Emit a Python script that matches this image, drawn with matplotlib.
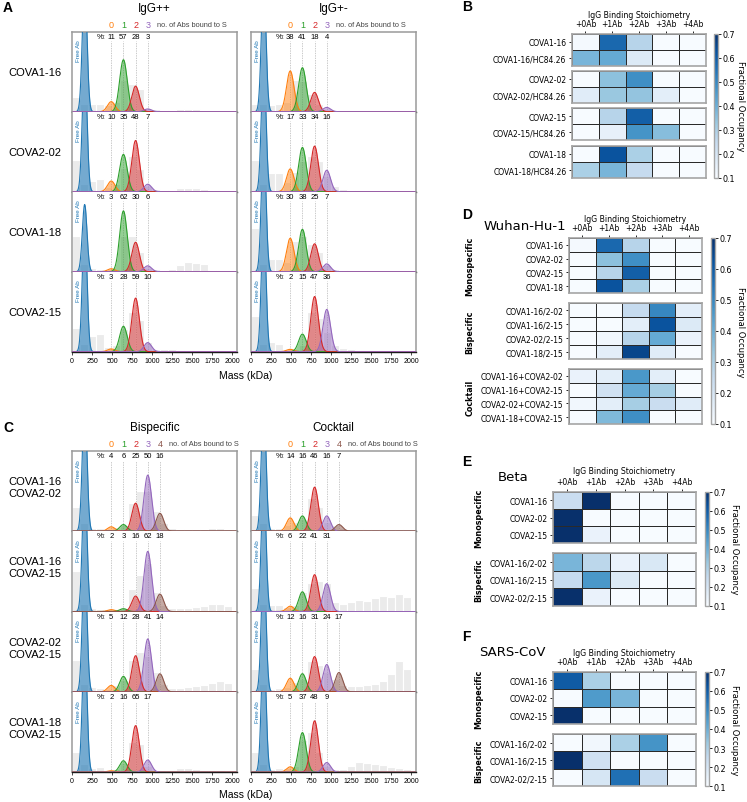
import numpy as np
import matplotlib
matplotlib.use('Agg')
import matplotlib.pyplot as plt

plt.rcParams['font.family'] = ['DejaVu Sans']

# ---- data ----
n_states = ['0', '1', '2', '3', '4']
peak_mass = [490, 642, 794, 946, 1098]   # kDa, spike + n IgG
free_ab_mass = 158
state_colors = ['tab:orange', 'tab:green', 'tab:red', 'tab:purple', 'tab:brown']
mass_ticks = [0, 250, 500, 750, 1000, 1250, 1500, 1750, 2000]
bin_centers = [50, 150, 250, 350, 450, 550, 650, 750, 850, 950,
               1050, 1150, 1250, 1350, 1450, 1550, 1650, 1750, 1850, 1950]

mono_names = ['COVA1-16', 'COVA2-02', 'COVA1-18', 'COVA2-15']
igg_pp = [[11, 57, 28, 3], [10, 35, 48, 7], [3, 62, 30, 6], [3, 28, 59, 10]]
igg_pm = [[38, 41, 18, 4], [17, 33, 34, 16], [30, 38, 25, 7], [2, 15, 47, 36]]
top_pp = [0.65, 0.64, 0.76, 0.67]
top_pm = [0.55, 0.57, 0.53, 0.69]
free_pp = [1.6, 1.6, 0.84, 1.6]
free_pm = [1.6, 1.6, 1.6, 1.6]

pair_names = ['COVA1-16\nCOVA2-02', 'COVA1-16\nCOVA2-15', 'COVA2-02\nCOVA2-15', 'COVA1-18\nCOVA2-15']
bispecific = [[4, 6, 25, 50, 16], [2, 3, 16, 62, 18], [5, 12, 28, 41, 14], [2, 16, 65, 17]]
cocktail = [[14, 16, 46, 16, 7], [6, 22, 41, 31], [12, 16, 31, 24, 17], [5, 37, 48, 9]]
top_bi = [0.70, 0.75, 0.66, 0.58]
top_co = [0.55, 0.46, 0.44, 0.64]
free_bi = [1.6, 1.6, 1.6, 1.6]
free_co = [1.6, 1.6, 1.6, 1.6]

# raw histogram (fraction of panel height, 100 kDa bins)
bg_pp = [[0.18, 0.1, 0.1, 0.1, 0.08, 0.12, 0.4, 0.35, 0.28, 0.05, 0.03, 0.02, 0.02, 0.04, 0.04, 0.03, 0.01, 0.0, 0.0, 0.0],
         [0.4, 0.1, 0.13, 0.16, 0.06, 0.1, 0.3, 0.45, 0.28, 0.07, 0.03, 0.02, 0.02, 0.05, 0.05, 0.05, 0.04, 0.01, 0.0, 0.0],
         [0.45, 0.1, 0.05, 0.04, 0.04, 0.04, 0.45, 0.45, 0.25, 0.05, 0.03, 0.02, 0.03, 0.08, 0.12, 0.11, 0.1, 0.02, 0.0, 0.0],
         [0.3, 0.1, 0.2, 0.22, 0.06, 0.08, 0.28, 0.5, 0.4, 0.12, 0.04, 0.03, 0.03, 0.02, 0.02, 0.01, 0.01, 0.0, 0.0, 0.0]]
bg_pm = [[0.1, 0.1, 0.08, 0.1, 0.12, 0.4, 0.38, 0.22, 0.1, 0.04, 0.02, 0.01, 0.01, 0.01, 0.0, 0.0, 0.0, 0.0, 0.0, 0.0],
         [0.4, 0.1, 0.24, 0.24, 0.12, 0.25, 0.38, 0.45, 0.38, 0.2, 0.07, 0.04, 0.02, 0.01, 0.0, 0.0, 0.0, 0.0, 0.0, 0.0],
         [0.55, 0.1, 0.16, 0.16, 0.12, 0.38, 0.45, 0.35, 0.25, 0.08, 0.03, 0.02, 0.01, 0.0, 0.0, 0.0, 0.0, 0.0, 0.0, 0.0],
         [0.45, 0.1, 0.12, 0.1, 0.04, 0.04, 0.08, 0.5, 0.42, 0.25, 0.08, 0.05, 0.03, 0.02, 0.01, 0.0, 0.0, 0.0, 0.0, 0.0]]
bg_bi = [[0.3, 0.1, 0.04, 0.04, 0.03, 0.05, 0.08, 0.35, 0.5, 0.5, 0.25, 0.1, 0.04, 0.03, 0.03, 0.03, 0.03, 0.04, 0.04, 0.03],
         [0.5, 0.1, 0.04, 0.03, 0.03, 0.03, 0.05, 0.28, 0.45, 0.6, 0.25, 0.08, 0.04, 0.04, 0.05, 0.06, 0.07, 0.09, 0.09, 0.07],
         [0.4, 0.1, 0.06, 0.05, 0.04, 0.08, 0.15, 0.4, 0.5, 0.45, 0.25, 0.1, 0.05, 0.05, 0.06, 0.07, 0.09, 0.11, 0.13, 0.11],
         [0.25, 0.1, 0.05, 0.07, 0.03, 0.04, 0.12, 0.38, 0.35, 0.08, 0.03, 0.02, 0.02, 0.05, 0.05, 0.04, 0.03, 0.03, 0.03, 0.02]]
bg_co = [[0.2, 0.1, 0.04, 0.04, 0.08, 0.12, 0.15, 0.42, 0.3, 0.12, 0.08, 0.04, 0.03, 0.03, 0.03, 0.03, 0.03, 0.03, 0.03, 0.03],
         [0.3, 0.1, 0.08, 0.08, 0.06, 0.08, 0.25, 0.35, 0.38, 0.35, 0.12, 0.1, 0.12, 0.15, 0.13, 0.17, 0.19, 0.18, 0.22, 0.18],
         [0.28, 0.1, 0.04, 0.05, 0.06, 0.12, 0.16, 0.38, 0.34, 0.25, 0.16, 0.08, 0.07, 0.07, 0.08, 0.1, 0.13, 0.22, 0.38, 0.28],
         [0.25, 0.1, 0.04, 0.05, 0.05, 0.08, 0.4, 0.5, 0.25, 0.08, 0.04, 0.04, 0.08, 0.13, 0.12, 0.1, 0.09, 0.07, 0.05, 0.04]]

stoich_labels = ['+0Ab', '+1Ab', '+2Ab', '+3Ab', '+4Ab']

# B: with / without HC84.26
b_names = ['COVA1-16', 'COVA1-16/HC84.26', 'COVA2-02', 'COVA2-02/HC84.26',
           'COVA2-15', 'COVA2-15/HC84.26', 'COVA1-18', 'COVA1-18/HC84.26']
# D: Wuhan-Hu-1
d_mono_names = ['COVA1-16', 'COVA2-02', 'COVA2-15', 'COVA1-18']
d_bi_names = ['COVA1-16/2-02', 'COVA1-16/2-15', 'COVA2-02/2-15', 'COVA1-18/2-15']
d_co_names = ['COVA1-16+COVA2-02', 'COVA1-16+COVA2-15', 'COVA2-02+COVA2-15', 'COVA1-18+COVA2-15']
# E: Beta
e_mono_names = ['COVA1-16', 'COVA2-02', 'COVA2-15']
e_mono = [[0.24, 0.72, 0.02, 0.01, 0.0], [0.96, 0.03, 0.01, 0.0, 0.0], [0.85, 0.14, 0.01, 0.0, 0.0]]
e_bi_names = ['COVA1-16/2-02', 'COVA1-16/2-15', 'COVA2-02/2-15']
e_bi = [[0.38, 0.27, 0.14, 0.19, 0.02], [0.25, 0.46, 0.18, 0.08, 0.03], [0.85, 0.14, 0.01, 0.0, 0.0]]
# F: SARS-CoV
f_mono = [[0.6, 0.3, 0.05, 0.02, 0.0], [0.05, 0.45, 0.38, 0.08, 0.02], [0.9, 0.05, 0.03, 0.01, 0.0]]
f_bi = [[0.05, 0.12, 0.3, 0.47, 0.06], [0.75, 0.22, 0.02, 0.01, 0.0], [0.05, 0.2, 0.55, 0.24, 0.02]]


def frac(p):
    # percentages -> occupancy row with 5 columns
    row = [v / 100 for v in p]
    return row + [0.0] * (5 - len(row))


# ---- layout helpers (pixel -> figure coords) ----
W, H = 747, 803
fig = plt.figure(figsize=(W / 100, H / 100), dpi=100)


def box(x0, y0, x1, y1):
    return [x0 / W, 1 - y1 / H, (x1 - x0) / W, (y1 - y0) / H]


def ftext(x, y, s, **kw):
    fig.text(x / W, 1 - y / H, s, **kw)


ARIAL = 'Liberation Sans'
x_grid = np.linspace(0, 2100, 1500)
sigma = 47


def mp_panel(ax, pct, bg, top, free_h, first_row, bottom_row):
    ax.bar(bin_centers, bg, width=100, color='#ebebeb', edgecolor='white', linewidth=0.8, zorder=1)
    free = free_h * np.exp(-0.5 * ((x_grid - free_ab_mass) / 29) ** 2)
    ax.fill_between(x_grid, free, color='tab:blue', alpha=0.62, lw=0, zorder=2)
    ax.plot(x_grid, free, color='tab:blue', lw=0.8, zorder=3)
    ax.text(76, 0.9, 'Free Ab', rotation=90, color='tab:blue', fontsize=4.5,
            ha='center', va='top', family=ARIAL, zorder=4)
    big = max(pct)
    for n, p in enumerate(pct):
        mu = peak_mass[n]
        g = top * p / big * np.exp(-0.5 * ((x_grid - mu) / sigma) ** 2)
        ax.plot([mu, mu], [0, 0.88], color='#b5b5b5', lw=0.5, ls=(0, (2, 1.5)), zorder=1.5)
        ax.fill_between(x_grid, g, color=state_colors[n], alpha=0.5, lw=0, zorder=2)
        ax.plot(x_grid, g, color=state_colors[n], lw=0.8, zorder=3)
        ax.text(mu, 0.945, str(p), ha='center', va='center', fontsize=5.5, family=ARIAL)
    ax.text(425, 0.945, '%:', ha='right', va='center', fontsize=5.5, family=ARIAL)
    ax.set_xlim(0, 2060)
    ax.set_ylim(0, 1)
    ax.set_yticks([])
    ax.set_xticks(mass_ticks)
    ax.tick_params(axis='x', bottom=bottom_row, labelbottom=bottom_row,
                   length=2, width=0.5, pad=1.5, labelsize=5)
    if bottom_row:
        ax.set_xticklabels([str(t) for t in mass_ticks], family=ARIAL)
    for s in ['left', 'right', 'top']:
        ax.spines[s].set_color('#9a9a9a')
        ax.spines[s].set_linewidth(1.1)
    ax.spines['top'].set_visible(first_row)
    ax.spines['bottom'].set_color('#1a1a1a')
    ax.spines['bottom'].set_linewidth(1.0)
    if first_row:
        tr = ax.get_xaxis_transform()
        for n in range(len(pct)):
            ax.text(peak_mass[n], 1.095, n_states[n], color=state_colors[n], fontsize=6.5,
                    ha='center', va='center', transform=tr, family=ARIAL)


def mp_block(col_x, row_tops, row_h, cols, row_names, titles, title_y, mass_y, label_dy, n_shown):
    for c, (x0, x1) in enumerate(col_x):
        pcts, bgs, tops, frees = cols[c]
        for r, y0 in enumerate(row_tops):
            ax = fig.add_axes(box(x0, y0, x1, y0 + row_h))
            mp_panel(ax, pcts[r], bgs[r], tops[r], frees[r], r == 0, r == len(row_tops) - 1)
            if r == 0:
                ax.text(peak_mass[n_shown - 1] + 110, 1.095, 'no. of Abs bound to S',
                        fontsize=5.3, color='#444444', ha='left', va='center',
                        transform=ax.get_xaxis_transform(), family=ARIAL)
        ftext((x0 + x1) / 2, title_y, titles[c], ha='center', va='center', fontsize=8.5, family=ARIAL)
    for r, y0 in enumerate(row_tops):
        ftext(8, y0 + row_h / 2 + label_dy, row_names[r], ha='left', va='center', fontsize=8,
              family=ARIAL, linespacing=1.25)
    ftext(246, mass_y, 'Mass (kDa)', ha='center', va='center', fontsize=7.5, family=ARIAL)


# ---- panel A ----
mp_block([(72, 237), (251, 416)], [32.7, 112.7, 192.7, 272.7], 80,
         [(igg_pp, bg_pp, top_pp, free_pp), (igg_pm, bg_pm, top_pm, free_pm)],
         mono_names, ['IgG++', 'IgG+-'], 9, 376, 0, 4)

# ---- panel C ----
mp_block([(72, 237), (251, 416)], [452, 532.3, 612.6, 692.9], 80.3,
         [(bispecific, bg_bi, top_bi, free_bi), (cocktail, bg_co, top_co, free_co)],
         pair_names, ['Bispecific', 'Cocktail'], 428, 795, -4, 5)


# ---- heatmaps ----
def heat(ax, vals, names, show_x):
    m = ax.pcolormesh(np.array(vals), cmap='Blues', vmin=0.1, vmax=0.7,
                      edgecolors='#2a2a2a', linewidth=0.5)
    ax.set_xlim(0, 5)
    ax.set_ylim(len(names), 0)
    ax.set_yticks(np.arange(len(names)) + 0.5)
    ax.set_yticklabels(names, fontsize=5.5)
    ax.xaxis.tick_top()
    ax.set_xticks(np.arange(5) + 0.5)
    if show_x:
        ax.set_xticklabels(stoich_labels, fontsize=5.5)
    else:
        ax.tick_params(axis='x', top=False, labeltop=False)
    ax.tick_params(length=2.5, width=0.6, pad=1.5)
    for s in ax.spines.values():
        s.set_color('#a5a5a5')
        s.set_linewidth(1.2)
    return m


def heat_block(x0, x1, groups, cbar_x, cbar_label_x, head_y):
    m = None
    for i, (y0, y1, vals, names) in enumerate(groups):
        ax = fig.add_axes(box(x0, y0, x1, y1))
        m = heat(ax, vals, names, i == 0)
    top, bot = groups[0][0], groups[-1][1]
    cax = fig.add_axes(box(cbar_x, top, cbar_x + 4, bot))
    cb = fig.colorbar(m, cax=cax)
    cb.set_ticks([0.1, 0.2, 0.3, 0.4, 0.5, 0.6, 0.7])
    cb.ax.tick_params(labelsize=5.8, length=2, width=0.6, pad=1)
    cb.outline.set_edgecolor('#a5a5a5')
    cb.outline.set_linewidth(1.0)
    ftext(cbar_label_x, (top + bot) / 2, 'Fractional Occupancy', rotation=270,
          ha='center', va='center', fontsize=6)
    ftext((x0 + x1) / 2, head_y, 'IgG Binding Stoichiometry', ha='center', va='center', fontsize=5.6)


all_mono = dict(zip(mono_names, igg_pp))
all_half = dict(zip(mono_names, igg_pm))
b_vals = []
for nm in d_mono_names:
    b_vals.append(frac(all_mono[nm]))
    b_vals.append(frac(all_half[nm]))

heat_block(572, 706, [(34.7, 66.7, b_vals[0:2], b_names[0:2]),
                      (72, 104, b_vals[2:4], b_names[2:4]),
                      (109.3, 141.3, b_vals[4:6], b_names[4:6]),
                      (146.7, 178.7, b_vals[6:8], b_names[6:8])], 714, 741, 15.5)

d_mono = [frac(all_mono[nm]) for nm in d_mono_names]
d_bi = [frac(p) for p in bispecific]
d_co = [frac(p) for p in cocktail]
heat_block(569, 702, [(239, 294, d_mono, d_mono_names),
                      (304.3, 360, d_bi, d_bi_names),
                      (370, 425, d_co, d_co_names)], 711, 740, 220)

heat_block(553, 696, [(492.7, 544.3, e_mono, e_mono_names),
                      (554.3, 606.7, e_bi, e_bi_names)], 705, 735, 472)

heat_block(553, 696, [(672.7, 725, f_mono, e_mono_names),
                      (735, 787.3, f_bi, e_bi_names)], 705, 735, 653)

# strain titles and group labels
ftext(525, 226, 'Wuhan-Hu-1', ha='center', va='center', fontsize=9.5)
ftext(513, 478, 'Beta', ha='center', va='center', fontsize=9.5)
ftext(512, 653, 'SARS-CoV', ha='center', va='center', fontsize=9.5)
for x, y, s in [(470, 266.5, 'Monospecific'), (470, 332, 'Bispecific'), (470, 397.5, 'Cocktail'),
                (479, 518.5, 'Monospecific'), (479, 580.5, 'Bispecific'),
                (479, 699, 'Monospecific'), (479, 761, 'Bispecific')]:
    ftext(x, y, s, rotation=90, ha='center', va='center', fontsize=5.8, fontweight='bold')

# panel letters
for x, y, s in [(3, 8, 'A'), (462, 7, 'B'), (3, 428, 'C'), (462, 215, 'D'), (462, 462, 'E'), (462, 637, 'F')]:
    ftext(x, y, s, ha='left', va='center', fontsize=10, fontweight='bold', family=ARIAL)

fig.savefig('out.png', dpi=100)
